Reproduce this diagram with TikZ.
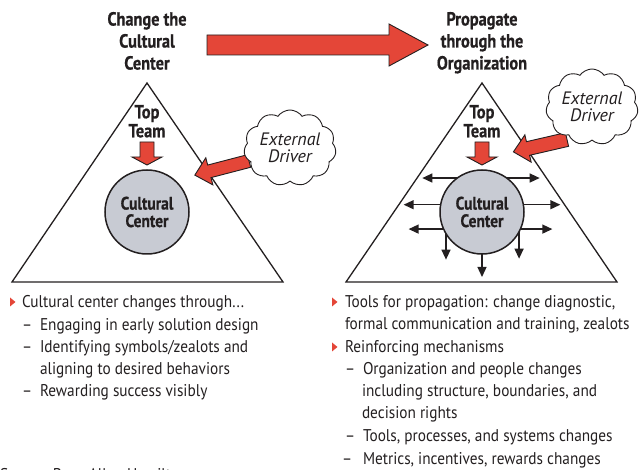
\documentclass[tikz,border=0pt]{standalone}
\usepackage{fontspec}
\setmainfont{PT Sans}[FakeStretch=0.9]
\newfontfamily\headfont{PT Sans}[FakeStretch=0.86,BoldFeatures={FakeBold=0.6}]
\newfontfamily\cloudfont{PT Sans}
\usetikzlibrary{shapes.symbols,arrows.meta}

\definecolor{cred}{RGB}{228,70,56}
\definecolor{coregray}{RGB}{200,203,211}
\definecolor{ink}{RGB}{35,31,32}

% length, shaft half width, head half width, head length
\newcommand{\fatarrow}[4]{%
  \draw[redblock] (0,-#2) -- ({#1-#4},-#2) -- ({#1-#4},-#3) -- (#1,0)
    -- ({#1-#4},#3) -- ({#1-#4},#2) -- (0,#2) -- cycle;}

\begin{document}
\begin{tikzpicture}[x=1pt,y=-1pt,
  every node/.style={inner sep=0pt,outer sep=0pt,text=ink},
  pyramid/.style={draw=ink,line width=1.3pt},
  redblock/.style={draw=ink,fill=cred,line width=0.9pt},
  heading/.style={font=\headfont\bfseries\fontsize{19}{22}\selectfont,align=center},
  team/.style={font=\headfont\bfseries\fontsize{19}{19}\selectfont,align=center},
  core/.style={circle,draw=ink,fill=coregray,line width=1.5pt,minimum size=84pt,
    font=\headfont\bfseries\fontsize{18}{17.5}\selectfont,align=center},
  driver/.style={cloud,cloud puffs=11,cloud puff arc=110,aspect=1.3,draw=ink,
    line width=0.9pt,fill=white,minimum width=85pt,minimum height=66pt,
    font=\cloudfont\itshape\fontsize{18}{17}\selectfont,align=center},
  spread/.style={draw=ink,line width=1.3pt,-{Triangle[length=10pt,width=9pt]}},
  item/.style={anchor=base west,font=\fontsize{17}{22}\selectfont},
]
\useasboundingbox (0,0) rectangle (641,470);

% headings and the big arrow
\node[heading,anchor=north] (headL) at (147,12) {Change the\\Cultural\\Center};
\node[heading,anchor=north] (headR) at (482,12) {Propagate\\through the\\Organization};
\begin{scope}[shift={(207,45)}]
\fatarrow{221}{10}{21}{39}
\end{scope}

% left pyramid
\draw[pyramid] (12,282) -- (147,83) -- (283,282) -- cycle;
\node[team,anchor=north] (teamL) at (147,105) {Top\\Team};
\begin{scope}[shift={(147,142)},rotate=-90]
\fatarrow{23}{7}{15}{8}
\end{scope}
\node[core] (ccL) at (147,212) {Cultural\\Center};
\begin{scope}[shift={(249,161)},rotate=194.6]
\fatarrow{56}{6.5}{14}{15}
\end{scope}
\node[driver] (extL) at (290,148) {External\\Driver};

% right pyramid
\draw[pyramid] (346,282) -- (482,83) -- (617,282) -- cycle;
\node[team,anchor=north] (teamR) at (482,105) {Top\\Team};
\begin{scope}[shift={(482,142)},rotate=-90]
\fatarrow{23}{7}{15}{8}
\end{scope}
\node[core] (ccR) at (482,212) {Cultural\\Center};
\begin{scope}[shift={(567,139.5)},rotate=193]
\fatarrow{55}{7}{14}{15}
\end{scope}
\node[driver] (extR) at (592,107) {External\\Driver};

% propagation arrows
\draw[spread] (ccR.126) -- ++(-35,0);
\draw[spread] (ccR.54) -- ++(33,0);
\draw[spread] (ccR.170) -- ++(-37,0);
\draw[spread] (ccR.10) -- ++(37,0);
\draw[spread] (ccR.204) -- ++(-35,0);
\draw[spread] (ccR.336) -- ++(32,0);
\draw[spread] (ccR.211) -- ++(0,26);
\draw[spread] (ccR.332) -- ++(0,27);
\draw[spread] (ccR.270) -- ++(0,23);

% notes, left
\fill[cred] (10,297.5) -- (15.5,302) -- (10,306.5) -- cycle;
\node[item] (nL1) at (22,308) {Cultural center changes through...};
\node[item] (dL2) at (22,330.5) {--};
\node[item] (nL2) at (40,330.5) {Engaging in early solution design};
\node[item] (dL3) at (22,353) {--};
\node[item] (nL3) at (40,353) {Identifying symbols/zealots and};
\node[item] (nL4) at (40,375) {aligning to desired behaviors};
\node[item] (dL5) at (22,397) {--};
\node[item] (nL5) at (40,397) {Rewarding success visibly};
\node[item] (src) at (0,481) {Source: Booz Allen Hamilton};

% notes, right
\fill[cred] (332,297.5) -- (337.5,302) -- (332,306.5) -- cycle;
\node[item] (nR1) at (345,308) {Tools for propagation: change diagnostic,};
\node[item] (nR2) at (345,330) {formal communication and training, zealots};
\fill[cred] (332,342.5) -- (337.5,347) -- (332,351.5) -- cycle;
\node[item] (nR3) at (345,353) {Reinforcing mechanisms};
\node[item] (dR4) at (345,375) {--};
\node[item] (nR4) at (363,375) {Organization and people changes};
\node[item] (nR5) at (362,397) {including structure, boundaries, and};
\node[item] (nR6) at (362,419) {decision rights};
\node[item] (dR7) at (345,442) {--};
\node[item] (nR7) at (363,442) {Tools, processes, and systems changes};
\node[item] (dR8) at (342,465) {--};
\node[item] (nR8) at (363,465) {Metrics, incentives, rewards changes};
\end{tikzpicture}
\end{document}
